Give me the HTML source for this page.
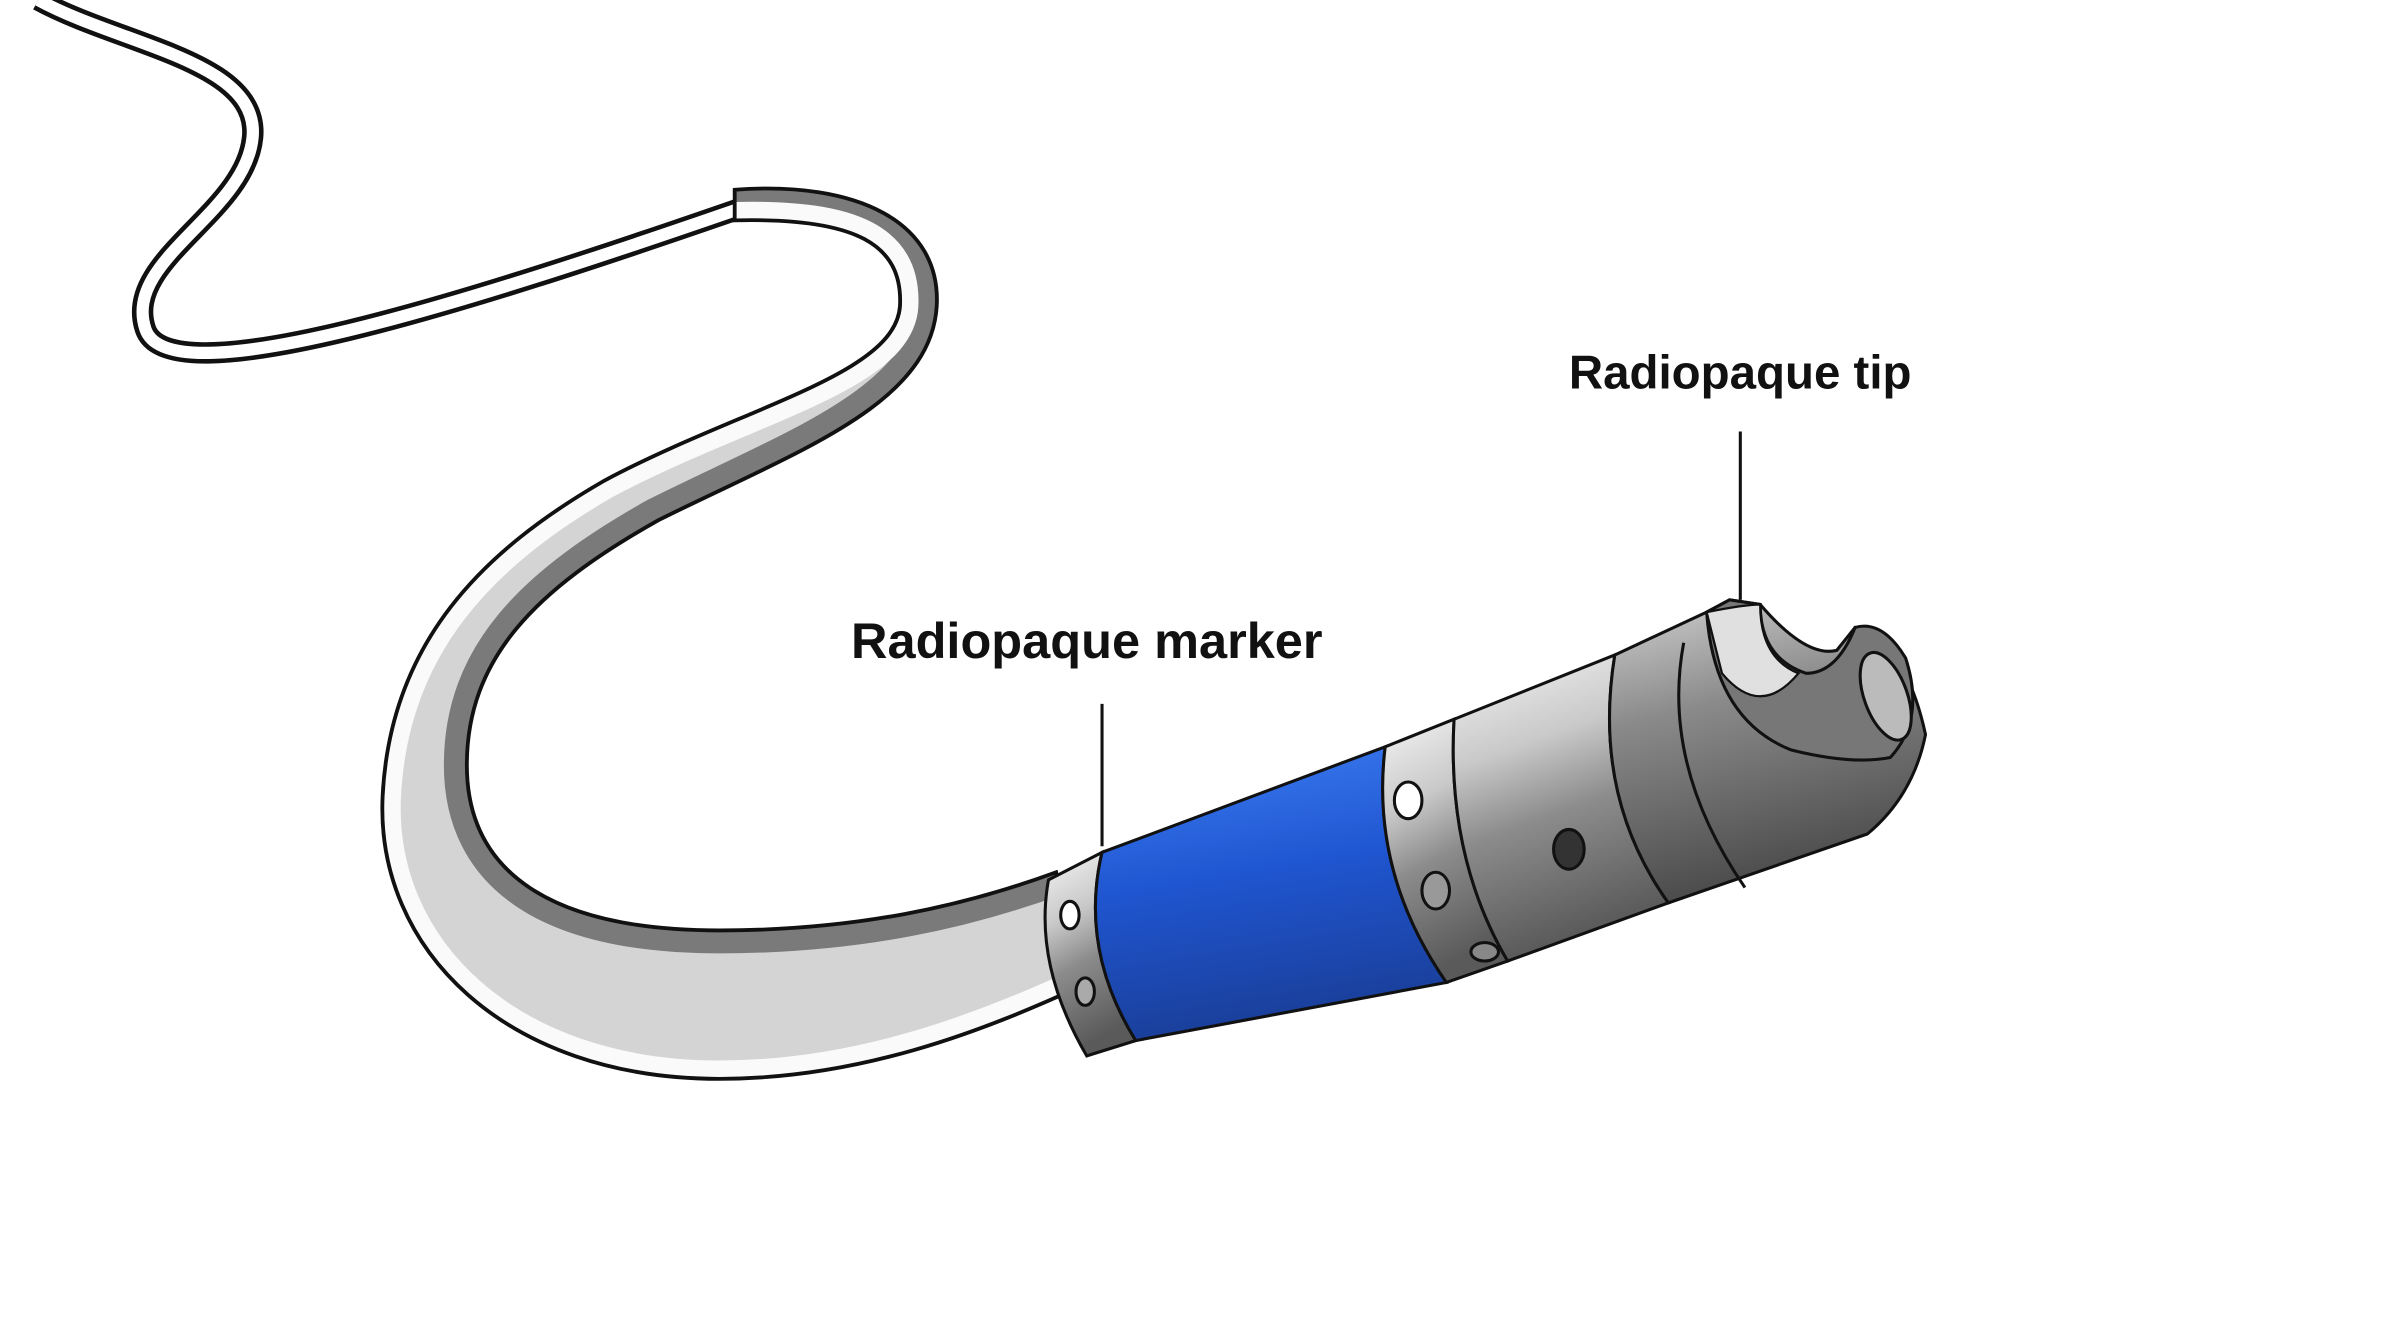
<!DOCTYPE html>
<html><head><meta charset="utf-8"><style>
html,body{margin:0;padding:0;background:#fff;}
svg{display:block}
text{font-family:"Liberation Sans",sans-serif;font-weight:bold;fill:#111;}
</style></head><body>
<svg width="2400" height="1339" viewBox="0 0 1568 875" preserveAspectRatio="none" xmlns="http://www.w3.org/2000/svg">
<defs>
<linearGradient id="blue" x1="0" y1="0" x2="0.2" y2="1">
<stop offset="0" stop-color="#3d7ff5"/><stop offset="0.5" stop-color="#1f55d0"/><stop offset="1" stop-color="#1a3f9a"/>
</linearGradient>
<linearGradient id="silver" x1="0" y1="0" x2="0.25" y2="1">
<stop offset="0" stop-color="#f4f4f4"/><stop offset="0.35" stop-color="#c9c9c9"/><stop offset="0.6" stop-color="#8c8c8c"/><stop offset="1" stop-color="#5a5a5a"/>
</linearGradient>
<linearGradient id="dark" x1="0" y1="0" x2="0.25" y2="1">
<stop offset="0" stop-color="#d0d0d0"/><stop offset="0.4" stop-color="#8a8a8a"/><stop offset="1" stop-color="#4a4a4a"/>
</linearGradient>
<path id="tube" d="M480 124 C560 118,615 145,612 200 C608 265,520 295,430 340 C350 385,305 430,305 500 C305 570,360 608,470 608 C560 608,630 592,690 570 L705 645 C640 675,560 705,470 705 C330 705,245 620,250 520 C255 420,315 360,395 314 C485 266,585 245,588 200 C590 160,560 142,480 144 Z"/>
<clipPath id="tc"><use href="#tube"/></clipPath>
</defs>
<!-- wire -->
<path d="M25 0 C80 30,170 40,165 90 C160 140,80 170,95 215 C110 260,300 200,490 134" fill="none" stroke="#111" stroke-width="14"/>
<path d="M25 0 C80 30,170 40,165 90 C160 140,80 170,95 215 C110 260,300 200,490 134" fill="none" stroke="#fff" stroke-width="8"/>
<!-- main tube -->
<use href="#tube" fill="#d4d4d4"/>
<g clip-path="url(#tc)">
<path d="M480 124 C560 118,615 145,612 200 C608 265,520 295,430 340 C350 385,305 430,305 500 C305 570,360 608,470 608 C560 608,630 592,690 570" fill="none" stroke="#7a7a7a" stroke-width="30"/>
<path d="M705 645 C640 675,560 705,470 705 C330 705,245 620,250 520 C255 420,315 360,395 314 C485 266,585 245,588 200 C590 160,560 142,480 144" fill="none" stroke="#fafafa" stroke-width="24"/>
</g>
<use href="#tube" fill="none" stroke="#111" stroke-width="2.5"/>
<!-- marker band -->
<path d="M685 575 L720 557 Q705 620 742 680 L710 690 Q675 630 685 575 Z" fill="url(#silver)" stroke="#111" stroke-width="2"/>
<ellipse cx="699" cy="598" rx="6" ry="9" fill="#fff" stroke="#111" stroke-width="2"/>
<ellipse cx="709" cy="648" rx="6" ry="9" fill="#aaa" stroke="#111" stroke-width="2"/>
<!-- blue -->
<path d="M720 557 L905 488 Q895 570 945 642 L742 680 Q705 620 720 557 Z" fill="url(#blue)" stroke="#111" stroke-width="2"/>
<!-- silver band with holes -->
<path d="M905 488 L950 470 Q945 560 985 628 L945 642 Q895 570 905 488 Z" fill="url(#silver)" stroke="#111" stroke-width="2"/>
<ellipse cx="920" cy="523" rx="9" ry="12" fill="#fff" stroke="#111" stroke-width="2"/>
<ellipse cx="938" cy="582" rx="9" ry="12" fill="#999" stroke="#111" stroke-width="2"/>
<ellipse cx="970" cy="622" rx="9" ry="6" fill="#888" stroke="#111" stroke-width="2"/>
<!-- segment -->
<path d="M950 470 L1055 428 Q1040 520 1090 590 L985 628 Q945 560 950 470 Z" fill="url(#silver)" stroke="#111" stroke-width="2"/>
<ellipse cx="1025" cy="555" rx="10" ry="13" fill="#333" stroke="#111" stroke-width="2"/>
<!-- tip -->
<path d="M1055 428 L1115 400 L1130 392 L1150 395 Q1180 430 1200 425 L1212 410 Q1245 420 1258 480 Q1250 520 1220 545 L1090 590 Q1040 520 1055 428 Z" fill="url(#dark)" stroke="#111" stroke-width="2"/>
<path d="M1115 400 Q1120 470 1170 490 Q1210 500 1235 495 Q1258 470 1245 430 Q1230 405 1212 410 Q1200 440 1180 440 Q1150 430 1150 395 L1130 392 Z" fill="#777" stroke="#111" stroke-width="2"/>
<path d="M1115 400 Q1140 395 1150 395 Q1150 430 1175 440 Q1150 470 1125 440 Z" fill="#e0e0e0" stroke="#111" stroke-width="1.5"/>
<ellipse cx="1232" cy="455" rx="14" ry="30" transform="rotate(-20 1232 455)" fill="#bbb" stroke="#111" stroke-width="2"/>
<path d="M1100 420 Q1085 500 1140 580" fill="none" stroke="#111" stroke-width="2"/>
<!-- leader lines -->
<line x1="720" y1="460" x2="720" y2="553" stroke="#111" stroke-width="2"/>
<line x1="1137" y1="282" x2="1137" y2="392" stroke="#111" stroke-width="2"/>
<!-- labels -->
<text x="556" y="430" font-size="33">Radiopaque marker</text>
<text x="1025" y="254" font-size="31">Radiopaque tip</text>
</svg>
</body></html>
